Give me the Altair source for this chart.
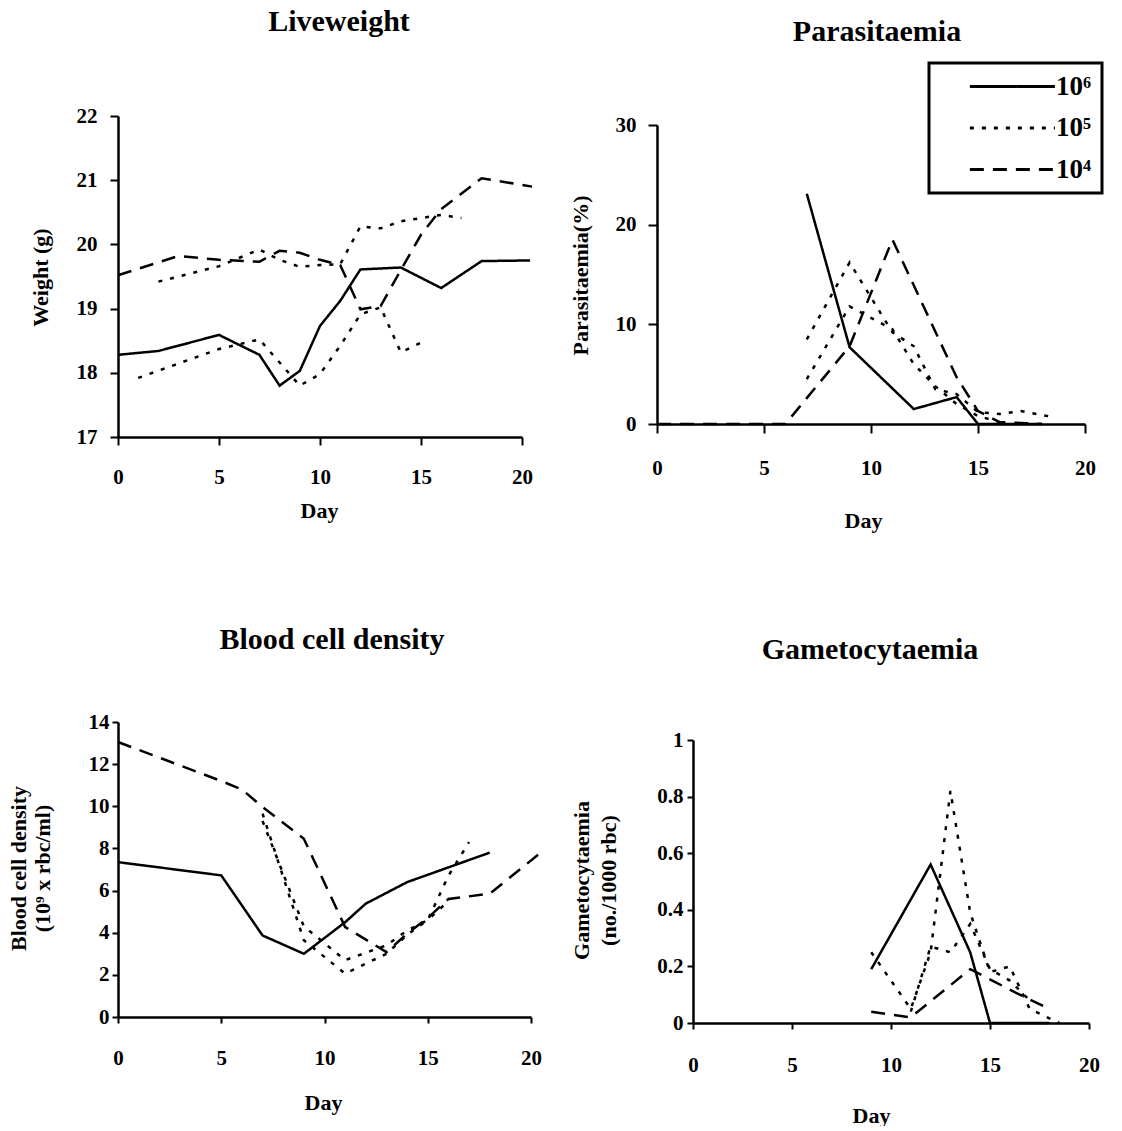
import altair as alt
import pandas as pd

FONT = "Liberation Serif"
DOSES = ["10⁶", "10⁵", "10⁴"]
DASHES = [[1, 0], [4, 8], [14, 9]]

# ---------------- Liveweight (g) ----------------
lw_d6_day = [0, 2, 5, 7, 8, 9, 10, 11, 12, 14, 16, 18, 20.4]
lw_d6 = [18.28, 18.34, 18.59, 18.28, 17.8, 18.03, 18.73, 19.12, 19.61, 19.64, 19.32, 19.74, 19.75]
lw_d5a_day = [1, 5, 7, 9, 10, 11, 12, 13, 14, 15]
lw_d5a = [17.92, 18.37, 18.52, 17.8, 17.98, 18.42, 18.91, 19.02, 18.32, 18.47]
lw_d5b_day = [2, 5, 7, 8, 9, 10, 11, 12, 13, 14, 16, 17]
lw_d5b = [19.42, 19.66, 19.92, 19.76, 19.65, 19.68, 19.69, 20.28, 20.25, 20.36, 20.46, 20.41]
lw_d4_day = [0, 3, 5, 7, 8, 9, 10, 11, 12, 13, 14, 15, 16, 18, 20.5]
lw_d4 = [19.52, 19.82, 19.76, 19.73, 19.9, 19.87, 19.76, 19.68, 18.99, 19.04, 19.6, 20.15, 20.55, 21.03, 20.9]

# ---------------- Parasitaemia (%) ----------------
pa_d6_day = [7, 9, 12, 14, 15, 16, 17, 18]
pa_d6 = [23.1, 7.7, 1.5, 2.7, 0, 0, 0, 0]
pa_d5a_day = [7, 9, 11, 12, 13, 14, 15, 16, 17, 18.5]
pa_d5a = [8.5, 16.2, 9.2, 7.8, 3.5, 3.0, 1.2, 1.0, 1.3, 0.7]
pa_d5b_day = [7, 9, 11, 12, 13, 14, 15, 16]
pa_d5b = [4.5, 11.8, 9.5, 6.0, 3.8, 2.0, 0.8, 0.2]
pa_d4_day = [0, 6, 9, 11, 14, 15, 16, 17, 18]
pa_d4 = [0, 0, 7.8, 18.5, 4.7, 1.3, 0.2, 0.1, 0]

# ---------------- Blood cell density (10^9 rbc/ml) ----------------
bc_d6_day = [0, 5, 7, 9, 11, 12, 14, 16, 18]
bc_d6 = [7.35, 6.72, 3.87, 3.0, 4.5, 5.38, 6.4, 7.1, 7.8]
bc_d5a_day = [7, 9, 11, 13, 14, 15, 16, 17]
bc_d5a = [9.65, 3.64, 2.06, 3.0, 3.9, 4.6, 6.7, 8.3]
bc_d5b_day = [7, 9, 11, 13, 14, 15, 16]
bc_d5b = [9.3, 4.3, 2.7, 3.4, 4.1, 4.6, 5.5]
bc_d4_day = [0, 5, 6, 7, 9, 11, 13, 14, 15, 16, 18, 20.6]
bc_d4 = [13.05, 11.2, 10.8, 9.97, 8.46, 4.27, 3.08, 3.95, 4.7, 5.6, 5.85, 7.9]

# ---------------- Gametocytaemia (no./1000 rbc) ----------------
ga_d6_day = [9, 12, 14, 15, 16, 17, 18]
ga_d6 = [0.19, 0.56, 0.25, 0, 0, 0, 0]
ga_d5a_day = [9, 11, 12, 13, 14, 15, 16, 17, 18.5]
ga_d5a = [0.25, 0.05, 0.25, 0.82, 0.39, 0.18, 0.2, 0.05, 0.0]
ga_d5b_day = [11, 12, 13, 14, 15, 16, 17]
ga_d5b = [0.04, 0.27, 0.25, 0.35, 0.19, 0.15, 0.08]
ga_d4_day = [9, 11, 14, 16.5, 18]
ga_d4 = [0.04, 0.02, 0.19, 0.1, 0.05]

TITLES = ["Liveweight", "Parasitaemia", "Blood cell density", "Gametocytaemia"]
Y_TITLES = ["Weight (g)", "Parasitaemia(%)",
            ["Blood cell density", "(10⁹ x rbc/ml)"],
            ["Gametocytaemia", "(no./1000 rbc)"]]
X_TICKS = [0, 5, 10, 15, 20]


def frame(series):
    rows = []
    for sid, (dose, days, vals) in enumerate(series):
        for d, v in zip(days, vals):
            rows.append({"day": d, "value": v, "dose": dose, "series": f"s{sid}"})
    return pd.DataFrame(rows)


def panel(df, w, h, xr, yr, ydom, yticks, yfmt, ytitle, ytx, yty, xtx, xty, title, tx, ty,
          xpad, ypad, tick, yoffset=0, legend=None, anchor=False, lineh=24):
    xaxis = alt.Axis(values=X_TICKS, title="Day", titleX=xtx, titleY=xty,
                     titleBaseline="middle", titleAlign="center", titleAngle=0,
                     labelPadding=xpad, tickSize=tick, labelFlush=False, labelOverlap=False)
    yaxis = alt.Axis(values=yticks, title=ytitle, titleX=ytx, titleY=yty,
                     titleBaseline="middle", titleAlign="center", titleAngle=270,
                     titleLineHeight=lineh, format=yfmt,
                     labelPadding=ypad, tickSize=tick, labelOverlap=False, offset=yoffset)
    lines = alt.Chart(df).mark_line(color="black", strokeWidth=2.5).encode(
        x=alt.X("day:Q", scale=alt.Scale(domain=[0, 20], range=xr, nice=False, zero=False), axis=xaxis),
        y=alt.Y("value:Q", scale=alt.Scale(domain=ydom, range=yr, nice=False, zero=False), axis=yaxis),
        strokeDash=alt.StrokeDash("dose:N", scale=alt.Scale(domain=DOSES, range=DASHES),
                                  legend=legend),
        detail="series:N",
        order="day:Q",
    )
    ttl = alt.Chart(pd.DataFrame({"t": [title]})).mark_text(
        font=FONT, fontSize=30, fontWeight="bold", color="black", baseline="middle", align="center"
    ).encode(text="t:N", x=alt.value(tx), y=alt.value(ty))
    layers = [lines, ttl]
    if anchor:
        anc = alt.Chart(pd.DataFrame({"a": [0]})).mark_rule(strokeOpacity=0, strokeWidth=0.1).encode(
            x=alt.value(-118), x2=alt.value(-118), y=alt.value(-100), y2=alt.value(-99))
        layers.append(anc)
    return alt.layer(*layers).properties(width=w, height=h)


lw_df = frame([(DOSES[0], lw_d6_day, lw_d6), (DOSES[1], lw_d5a_day, lw_d5a),
               (DOSES[1], lw_d5b_day, lw_d5b), (DOSES[2], lw_d4_day, lw_d4)])
pa_df = frame([(DOSES[0], pa_d6_day, pa_d6), (DOSES[1], pa_d5a_day, pa_d5a),
               (DOSES[1], pa_d5b_day, pa_d5b), (DOSES[2], pa_d4_day, pa_d4)])
bc_df = frame([(DOSES[0], bc_d6_day, bc_d6), (DOSES[1], bc_d5a_day, bc_d5a),
               (DOSES[1], bc_d5b_day, bc_d5b), (DOSES[2], bc_d4_day, bc_d4)])
ga_df = frame([(DOSES[0], ga_d6_day, ga_d6), (DOSES[1], ga_d5a_day, ga_d5a),
               (DOSES[1], ga_d5b_day, ga_d5b), (DOSES[2], ga_d4_day, ga_d4)])

legend = alt.Legend(orient="none", legendX=272, legendY=-37, title=None, direction="vertical",
                    symbolType="M-1,0H7", symbolSize=452, symbolStrokeWidth=3,
                    symbolStrokeColor="black", symbolFillColor="transparent",
                    labelFont=FONT, labelFontSize=27, labelExpr="datum.label + '\u00a0\u00a0'",
                    labelFontWeight="bold", labelColor="black", labelOffset=62,
                    rowPadding=13.5, padding=10, strokeColor="black", symbolOffset=28)

p1 = panel(lw_df, 413, 337, [0, 404], [337, 16], [17, 22], [17, 18, 19, 20, 21, 22], "d",
           Y_TITLES[0], -78, 177, 201, 73, TITLES[0], 221, -78, 21, 13, 8, anchor=True)
p2 = panel(pa_df, 428, 324, [0, 428], [324, 25], [0, 30], [0, 10, 20, 30], "d",
           Y_TITLES[1], -77, 175, 206, 96, TITLES[1], 220, -68, 24, 12, 9, legend=legend)
p3 = panel(bc_df, 413, 317, [0, 413], [317, 22], [0, 14], [0, 2, 4, 6, 8, 10, 12, 14], "d",
           Y_TITLES[2], -100, 168, 205, 85, TITLES[2], 214, -60, 24, 3, 6)
p4 = panel(ga_df, 432, 323, [36, 432], [323, 40], [0, 1], [0, 0.2, 0.4, 0.6, 0.8, 1], "~g",
           Y_TITLES[3], -112, 180, 214, 92, TITLES[3], 213, -50, 25, 4, 6, yoffset=-36, lineh=27)

chart = alt.concat(p1, p2, p3, p4, columns=2, spacing={"row": 263, "column": 126},
                   bounds="flush").resolve_scale(
    x="independent", y="independent", strokeDash="independent"
).resolve_legend(strokeDash="independent").properties(
    padding=0, background="white"
).configure_view(stroke=None).configure_axis(
    grid=False, domainColor="black", domainWidth=2.5, tickColor="black", tickWidth=2,
    labelFont=FONT, labelFontSize=21, labelFontWeight="bold", labelColor="black",
    titleFont=FONT, titleFontSize=22, titleFontWeight="bold", titleColor="black"
).configure_legend(strokeWidth=3)

chart.save("out.html", embed_options={"renderer": "svg", "actions": False})
